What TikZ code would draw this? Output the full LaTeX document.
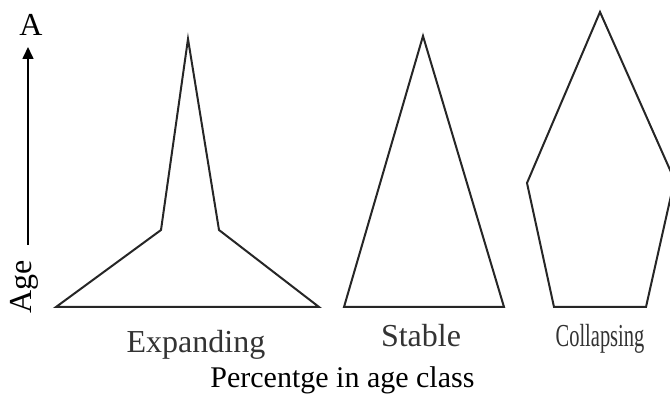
\documentclass[tikz,border=0pt]{standalone}
\usepackage{fontspec}
\setmainfont{Liberation Serif}
\usetikzlibrary{arrows.meta}

\begin{document}
\begin{tikzpicture}[
    x=0.5pt, y=-0.5pt,
    >={Triangle[length=6pt, width=5.5pt]},
    pyramid/.style={draw=black!85, line width=1pt, line join=miter},
    typelbl/.style={font=\fontsize{16}{19}\selectfont, text=black!80, anchor=base, inner sep=0pt},
    axislbl/.style={font=\fontsize{16}{19}\selectfont, inner sep=0pt},
    captionlbl/.style={font=\fontsize{15}{18}\selectfont, anchor=base west, inner sep=0pt}
]
\useasboundingbox (0,0) rectangle (670,394);
% baselines of the labels
\def\yType{353}
\def\yCap{388}
% Age axis
\node[axislbl, rotate=90] (agelbl) at (24,287) {Age};
\node[axislbl] (alabel) at (31,25) {A};
\coordinate (axbot) at (28,245);
\coordinate (axtop) at (28,47);
\draw[->, line width=0.8pt] (axbot) -- (axtop);
% --- Expanding
\draw[pyramid] (56,307) -- (161,230) -- (188,39) -- (219,230) -- (319,307) -- cycle;
% --- Stable
\draw[pyramid] (344,307) -- (423,36) -- (504,307) -- cycle;
% --- Collapsing (right corner runs off the edge)
\draw[pyramid] (554,307) -- (527,183) -- (600,12) -- (674.5,180) -- (646,307) -- cycle;
% --- Labels under the pyramids
\node[typelbl] (explbl) at (196,\yType) {Expanding};
\node[typelbl] (stalbl) at (421,347) {Stable};
\node[typelbl] (collbl) at (600,347) {\scalebox{0.64}[1]{Collapsing}};
\node[captionlbl] (caption) at (210,\yCap) {Percentge in age class};
\end{tikzpicture}
\end{document}
